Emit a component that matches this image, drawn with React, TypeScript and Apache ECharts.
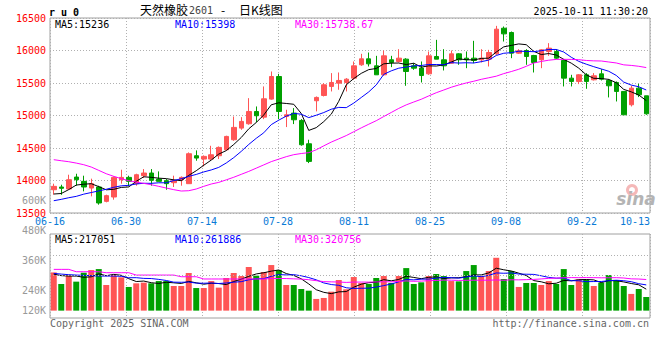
import React, { useEffect, useRef } from "react";
import * as echarts from "echarts";

const dates = [
  "06-16", "06-17", "06-18", "06-19", "06-20", "06-23", "06-24", "06-25", "06-26", "06-27",
  "06-30", "07-01", "07-02", "07-03", "07-04", "07-07", "07-08", "07-09", "07-10", "07-11",
  "07-14", "07-15", "07-16", "07-17", "07-18", "07-21", "07-22", "07-23", "07-24", "07-25",
  "07-28", "07-29", "07-30", "07-31", "08-01", "08-04", "08-05", "08-06", "08-07", "08-08",
  "08-11", "08-12", "08-13", "08-14", "08-15", "08-18", "08-19", "08-20", "08-21", "08-22",
  "08-25", "08-26", "08-27", "08-28", "08-29", "09-01", "09-02", "09-03", "09-04", "09-05",
  "09-08", "09-09", "09-10", "09-11", "09-12", "09-15", "09-16", "09-17", "09-18", "09-19",
  "09-22", "09-23", "09-24", "09-25", "09-26", "09-29", "09-30", "10-09", "10-10", "10-13",
];

const opens = [
  13858, 13900, 13869, 14053, 13987, 13884, 13900, 13679, 13746, 14012,
  14048, 13951, 14074, 14115, 14022, 13997, 13966, 14012, 13951, 14381,
  14330, 14330, 14381, 14473, 14627, 14806, 14873, 15062, 14975, 15252,
  15600, 14986, 15037, 14924, 14565, 15227, 15308, 15447, 15498, 15508,
  15575, 15780, 15872, 15764, 15626, 15857, 15831, 15867, 15764, 15730,
  15641, 15908, 15857, 15805, 15949, 15882, 15882, 15857, 15867, 15949,
  16343, 16277, 15959, 16000, 15923, 15857, 15985, 15985, 15846, 15575,
  15524, 15626, 15549, 15641, 15539, 15508, 15370, 15165, 15421, 15303,
];
const closes = [
  13910, 13880, 14012, 14012, 13900, 13951, 13654, 13767, 14048, 14048,
  13987, 14089, 14115, 14002, 13987, 13951, 13997, 14048, 14412, 14345,
  14371, 14396, 14509, 14678, 14817, 14909, 15062, 14996, 15257, 15600,
  15062, 15011, 14934, 14550, 14294, 15278, 15472, 15508, 15539, 15559,
  15764, 15872, 15795, 15626, 15918, 15816, 15882, 15677, 15728, 15615,
  15918, 15867, 15764, 15949, 15857, 15857, 15846, 15882, 15969, 16328,
  16256, 15959, 15995, 15908, 15816, 16010, 16036, 15882, 15575, 15524,
  15626, 15524, 15611, 15559, 15457, 15370, 15011, 15421, 15319, 15026,
];
const highs = [
  13951, 13935, 14089, 14104, 14074, 14028, 13920, 13782, 14063, 14166,
  14074, 14104, 14176, 14176, 14140, 14022, 14074, 14063, 14432, 14463,
  14386, 14534, 14524, 14689, 14985, 14975, 15267, 15139, 15447, 15677,
  15641, 15088, 15114, 14945, 14627, 15293, 15498, 15652, 15662, 15575,
  15831, 15949, 15969, 15918, 16000, 15918, 16020, 15882, 15805, 15831,
  15985, 16164, 16020, 16000, 15959, 15985, 16149, 16020, 16010, 16379,
  16369, 16292, 16020, 16020, 15933, 16020, 16113, 16020, 15867, 15626,
  15636, 15652, 15652, 15713, 15560, 15524, 15370, 15457, 15488, 15303,
];
const lows = [
  13782, 13780, 13860, 13920, 13833, 13756, 13628, 13664, 13705, 13951,
  13910, 13920, 14038, 13920, 13987, 13858, 13900, 13920, 13951, 14304,
  14217, 14309, 14330, 14463, 14611, 14780, 14858, 14893, 14944, 15242,
  14944, 14822, 14868, 14535, 14268, 15063, 15293, 15370, 15396, 15370,
  15549, 15764, 15754, 15626, 15610, 15744, 15816, 15457, 15703, 15508,
  15626, 15867, 15693, 15795, 15780, 15728, 15805, 15816, 15754, 15933,
  16138, 15882, 15949, 15780, 15662, 15728, 15918, 15867, 15447, 15447,
  15483, 15411, 15539, 15539, 15278, 15216, 15011, 15139, 15283, 15011,
];
const volumes = [
  389000, 271000, 356000, 295000, 386000, 413000, 423000, 261000, 362000, 339000,
  241000, 278000, 285000, 278000, 301000, 301000, 251000, 251000, 383000, 230000,
  230000, 301000, 234000, 332000, 383000, 352000, 444000, 356000, 393000, 464000,
  413000, 261000, 261000, 220000, 203000, 119000, 129000, 193000, 312000, 217000,
  342000, 281000, 271000, 332000, 352000, 281000, 352000, 433000, 271000, 288000,
  352000, 373000, 352000, 301000, 298000, 403000, 464000, 352000, 403000, 538000,
  322000, 403000, 241000, 281000, 281000, 261000, 301000, 271000, 423000, 261000,
  318000, 312000, 251000, 285000, 362000, 312000, 251000, 170000, 220000, 139000,
];

// moving-average values at the left edge (window reaches before the first visible day)
const ma5Lead = [13792, 13800, 13860, 13930];
const ma10Lead = [13689, 13710, 13735, 13756, 13790, 13815, 13840, 13865, 13895];
const ma30Lead = [
  14320, 14304, 14289, 14268, 14243, 14207, 14156, 14104, 14064, 14028,
  13997, 13976, 13956, 13935, 13910, 13884, 13859, 13838, 13843, 13869,
  13910, 13946, 13971, 14010, 14050, 14095, 14140, 14190, 14240,
];
const vma5Lead = [372000, 356000, 352000, 352000];
const vma10Lead = [379000, 372000, 366000, 362000, 359000, 356000, 352000, 352000, 352000];
const vma30Lead = [
  420000, 420000, 420000, 396000, 396000, 396000, 396000, 386000, 386000, 386000,
  386000, 362000, 362000, 362000, 362000, 362000, 362000, 345000, 345000, 345000,
  322000, 322000, 322000, 322000, 322000, 322000, 322000, 322000, 322000,
];

const priceTicks = { min: 13500, max: 16500, step: 500 };
const volGridValues = [360000, 560000];
const volTickLabels = ["120K", "240K", "360K", "480K", "600K"];
const volTickSlots = [0, 2, 5, 8, 11];

const maLegend = ["MA5:15236", "MA10:15398", "MA30:15738.67"];
const volMaLegend = ["MA5:217051", "MA10:261886", "MA30:320756"];
const headerSymbol = "r u 0";
const titleParts = ["天然橡胶", "2601", "-", "日K线图"];
const stamp = "2025-10-11 11:30:20";
const footerLeft = "Copyright 2025 SINA.COM";
const footerRight = "http://finance.sina.com.cn";

const UP = "#ff5555";
const DOWN = "#00a000";
const MA_COLORS = ["#000000", "#0000ff", "#ff00ff"];
const MONO = '"DejaVu Sans Mono", "Liberation Mono", monospace';
const CJK = '"Noto Sans CJK SC", sans-serif';

function movingAverage(values: number[], n: number, lead: number[]): number[] {
  return values.map((_, i) => {
    if (i < n - 1) return lead[i];
    let s = 0;
    for (let k = i - n + 1; k <= i; k++) s += values[k];
    return Math.round((s / n) * 100) / 100;
  });
}

export default function App() {
  const ref = useRef<HTMLDivElement>(null);
  useEffect(() => {
    if (!ref.current) return;
    const chart = echarts.init(ref.current, null, { renderer: "svg" });
    const N = dates.length;
    const gridStep = 76 / 7.5; // vertical grid spacing, in candle slots
    const dotted = { color: "#b0b0b0", type: [1, 2] as any, width: 1 };

    const ma5 = movingAverage(closes, 5, ma5Lead);
    const ma10 = movingAverage(closes, 10, ma10Lead);
    const ma30 = movingAverage(closes, 30, ma30Lead);
    const vma5 = movingAverage(volumes, 5, vma5Lead);
    const vma10 = movingAverage(volumes, 10, vma10Lead);
    const vma30 = movingAverage(volumes, 30, vma30Lead);

    const txt = (x: number, y: number, text: string, fill: string, font: string, align = "left") => ({
      type: "text",
      x,
      y,
      silent: true,
      style: {
        text,
        fill,
        font,
        textAlign: align,
        align,
        textVerticalAlign: "middle",
        verticalAlign: "middle",
      },
    });

    const volLabelMap: Record<number, string> = {};
    volTickSlots.forEach((s, i) => (volLabelMap[s] = volTickLabels[i]));

    const lineSeries = (data: number[], color: string, xi: number, yi: number) => ({
      type: "line",
      xAxisIndex: xi,
      yAxisIndex: yi,
      data,
      symbol: "none",
      showSymbol: false,
      silent: true,
      z: 4,
      lineStyle: { color, width: 1 },
    });

    const option: any = {
      animation: false,
      backgroundColor: "#ffffff",
      grid: [
        { left: 50, top: 18, width: 600, height: 195, show: true, borderColor: "#a0a0a0", borderWidth: 1, outerBoundsMode: "none" },
        { left: 50, top: 234, width: 600, height: 84, show: true, borderColor: "#a0a0a0", borderWidth: 1, outerBoundsMode: "none" },
        { left: 50, top: 200.7, width: 10, height: 110, show: false, outerBoundsMode: "none" },
      ],
      xAxis: [
        { type: "category", gridIndex: 0, position: "bottom", data: dates, boundaryGap: true, show: false },
        {
          type: "value",
          gridIndex: 0,
          position: "bottom",
          min: 0,
          max: N,
          interval: gridStep,
          axisLine: { show: false },
          axisTick: { show: false },
          splitLine: { show: true, lineStyle: dotted },
          axisLabel: {
            formatter: (v: number) => dates[Math.min(N - 1, Math.floor(v + 1e-6))],
            color: "#0a7ad6",
            fontFamily: MONO,
            fontSize: 10,
            lineHeight: 8,
            margin: 4.7,
            alignMaxLabel: "right",
          },
        },
        { type: "category", gridIndex: 1, position: "bottom", data: dates, boundaryGap: true, show: false },
        {
          type: "value",
          gridIndex: 1,
          position: "bottom",
          min: 0,
          max: N,
          interval: gridStep,
          axisLine: { show: false },
          axisTick: { show: false },
          axisLabel: { show: false },
          splitLine: { show: true, lineStyle: dotted },
        },
        { type: "value", gridIndex: 2, position: "bottom", min: 0, max: 1, show: false },
      ],
      yAxis: [
        {
          type: "value",
          gridIndex: 0,
          position: "left",
          min: priceTicks.min,
          max: priceTicks.max,
          interval: priceTicks.step,
          axisLine: { show: false },
          axisTick: { show: false },
          splitLine: { show: true, lineStyle: dotted },
          axisLabel: {
            formatter: (v: number) => String(v),
            color: "#ff0000",
            fontFamily: MONO,
            fontSize: 10,
            lineHeight: 8,
            margin: 4,
          },
        },
        {
          type: "value",
          gridIndex: 1,
          position: "left",
          min: -75000,
          max: 780000,
          axisLine: { show: false },
          axisTick: { show: false },
          splitLine: { show: false },
          axisLabel: { show: false },
        },
        {
          type: "value",
          gridIndex: 2,
          position: "left",
          min: 0,
          max: 11,
          interval: 1,
          axisLine: { show: false },
          axisTick: { show: false },
          splitLine: { show: false },
          axisLabel: {
            formatter: (v: number) => volLabelMap[Math.round(v)] || "",
            color: "#999999",
            fontFamily: MONO,
            fontSize: 10,
            lineHeight: 8,
            margin: 4,
          },
        },
      ],
      series: [
        {
          type: "candlestick",
          xAxisIndex: 0,
          yAxisIndex: 0,
          barWidth: 5,
          z: 2,
          silent: true,
          data: opens.map((o, i) => [o, closes[i], lows[i], highs[i]]),
          itemStyle: { color: UP, color0: DOWN, borderColor: UP, borderColor0: DOWN, borderWidth: 1 },
        },
        lineSeries(ma5, MA_COLORS[0], 0, 0),
        lineSeries(ma10, MA_COLORS[1], 0, 0),
        lineSeries(ma30, MA_COLORS[2], 0, 0),
        {
          type: "line",
          xAxisIndex: 2,
          yAxisIndex: 1,
          data: [],
          z: 1,
          silent: true,
          markLine: {
            silent: true,
            symbol: "none",
            label: { show: false },
            lineStyle: dotted,
            data: volGridValues.map((v) => ({ yAxis: v })),
          },
        },
        {
          type: "bar",
          xAxisIndex: 2,
          yAxisIndex: 1,
          barWidth: 6,
          z: 2,
          silent: true,
          data: volumes.map((v, i) => ({
            value: v,
            itemStyle: { color: closes[i] >= opens[i] ? UP : DOWN },
          })),
        },
        lineSeries(vma5, MA_COLORS[0], 2, 1),
        lineSeries(vma10, MA_COLORS[1], 2, 1),
        lineSeries(vma30, MA_COLORS[2], 2, 1),
      ],
      graphic: [
        txt(49, 12, headerSymbol, "#000000", `bold 10px ${MONO}`),
        txt(140, 9, titleParts[0], "#000000", `12px ${CJK}`),
        txt(189, 10, titleParts[1], "#444444", `10px ${MONO}`),
        txt(221, 9, titleParts[2], "#000000", `12px ${CJK}`),
        txt(239, 9, titleParts[3], "#000000", `12px ${CJK}`),
        txt(648, 11, stamp, "#000000", `10px ${MONO}`, "right"),
        txt(55, 24, maLegend[0], MA_COLORS[0], `10px ${MONO}`),
        txt(175, 24, maLegend[1], MA_COLORS[1], `10px ${MONO}`),
        txt(295, 24, maLegend[2], MA_COLORS[2], `10px ${MONO}`),
        txt(55, 239.5, volMaLegend[0], MA_COLORS[0], `10px ${MONO}`),
        txt(175, 239.5, volMaLegend[1], MA_COLORS[1], `10px ${MONO}`),
        txt(295, 239.5, volMaLegend[2], MA_COLORS[2], `10px ${MONO}`),
        txt(50, 323, footerLeft, "#666666", `10px ${MONO}`),
        txt(649, 323, footerRight, "#666666", `10px ${MONO}`, "right"),
        {
          type: "ring",
          silent: true,
          shape: { cx: 632, cy: 190, r: 6, r0: 3 },
          style: { fill: "#f2a0a0", opacity: 0.75 },
        },
        txt(636, 199, "sina", "#b4b4b4", `italic bold 17px "DejaVu Sans", sans-serif`, "center"),
      ],
    };

    chart.setOption(option);
    return () => chart.dispose();
  }, []);

  return (
    <div
      ref={ref}
      style={{ position: "fixed", left: 0, top: 0, width: 660, height: 360, background: "#fff" }}
    />
  );
}
